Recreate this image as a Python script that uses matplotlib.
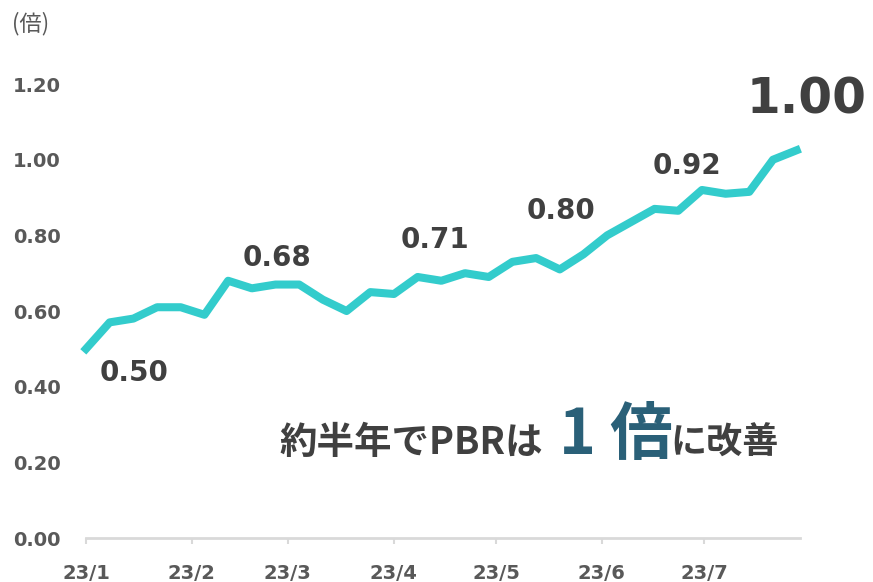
import matplotlib
matplotlib.use('Agg')
import matplotlib.pyplot as plt
import pandas as pd

plt.rcParams['font.family'] = ['DejaVu Sans', 'Noto Sans CJK JP']

# weekly PBR, Jan - Jul 2023
dates = pd.date_range('2023-01-01', '2023-07-28', periods=31)
pbr = [0.50, 0.57, 0.58, 0.61, 0.61, 0.59, 0.68, 0.66, 0.67, 0.67,
       0.63, 0.60, 0.65, 0.645, 0.69, 0.68, 0.70, 0.69, 0.73, 0.74,
       0.71, 0.75, 0.80, 0.835, 0.87, 0.865, 0.92, 0.91, 0.915, 1.00, 1.025]

month_ticks = pd.date_range('2023-01-01', '2023-07-01', freq='MS')
month_labels = ['23/1', '23/2', '23/3', '23/4', '23/5', '23/6', '23/7']

y_ticks = [0.0, 0.2, 0.4, 0.6, 0.8, 1.0, 1.2]
y_labels = ['0.00', '0.20', '0.40', '0.60', '0.80', '1.00', '1.20']

# callouts: text, date, y
callout_text = ['0.50', '0.68', '0.71', '0.80', '0.92']
callout_date = pd.to_datetime(['2023-01-15', '2023-02-26', '2023-04-13',
                               '2023-05-20', '2023-06-26'])
callout_y = [0.435, 0.740, 0.788, 0.865, 0.984]

line_color = '#33CCCC'
text_color = '#404040'
tick_color = '#595959'
accent = '#2A6078'

fig = plt.figure(figsize=(8.73, 5.82), dpi=100)
ax = fig.add_axes([0.0985, 0.0756, 0.818, 0.780])

ax.plot(dates, pbr, color=line_color, linewidth=5.8, clip_on=False)

ax.set_ylim(0, 1.2)
ax.set_xlim(pd.Timestamp('2023-01-01'), pd.Timestamp('2023-07-29'))

ax.set_yticks(y_ticks)
ax.set_yticklabels(y_labels, fontsize=14, fontweight='bold', color=tick_color)
ax.set_xticks(month_ticks)
ax.set_xticklabels(month_labels, fontsize=14, fontweight='bold', color=tick_color)

ax.tick_params(axis='y', length=0, pad=18)
ax.tick_params(axis='x', length=4, width=1.5, color='#d9d9d9', pad=15)

for s in ['top', 'right', 'left']:
    ax.spines[s].set_visible(False)
ax.spines['bottom'].set_color('#d9d9d9')
ax.spines['bottom'].set_linewidth(2)

for t, d, y in zip(callout_text, callout_date, callout_y):
    ax.text(d, y, t, fontsize=20, fontweight='bold', color=text_color,
            ha='center', va='center')

ax.text(pd.Timestamp('2023-07-31'), 1.158, '1.00', fontsize=35,
        fontweight='bold', color=text_color, ha='center', va='center')

# unit label
fig.text(12 / 873, 1 - 24 / 582, '(倍)', fontsize=16, color=tick_color,
         family=['Noto Sans CJK JP'], va='center', ha='left')

# message
base_y = 1 - 454 / 582
jp = ['Noto Sans CJK JP', 'DejaVu Sans']
fig.text(279 / 873, base_y, '約半年でPBRは', fontsize=27, fontweight='bold',
         color=text_color, family=jp, va='baseline', ha='left')
fig.text(559 / 873, base_y, '1 倍', fontsize=45, fontweight='bold',
         color=accent, family=jp, va='baseline', ha='left')
fig.text(670 / 873, base_y, 'に改善', fontsize=26, fontweight='bold',
         color=text_color, family=jp, va='baseline', ha='left')

fig.savefig('out.png', dpi=100)
